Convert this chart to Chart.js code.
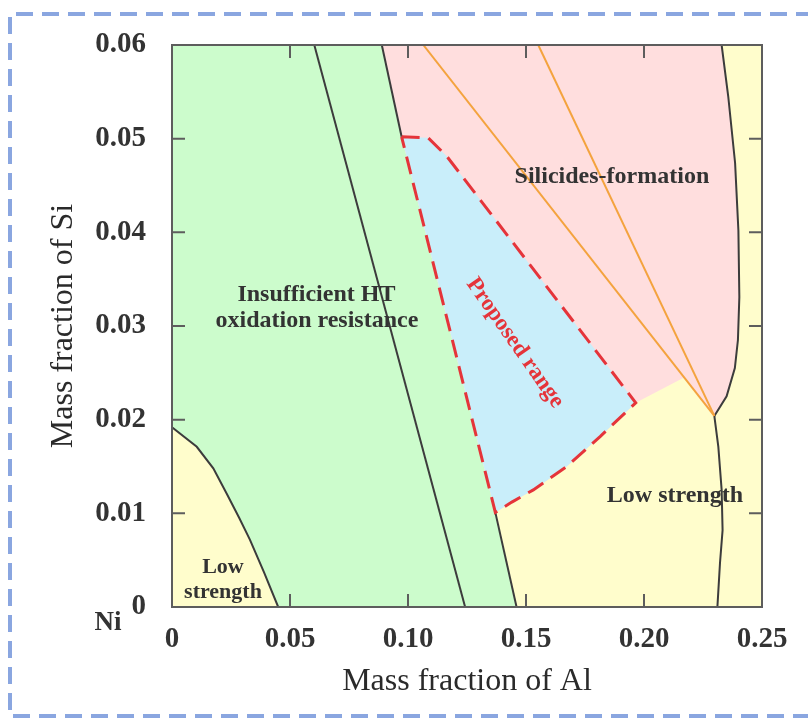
<!DOCTYPE html>
<html>
<head>
<meta charset="utf-8">
<script src="https://cdn.jsdelivr.net/npm/chart.js@4.4.1/dist/chart.umd.min.js"></script>
<style>
  html, body { margin: 0; padding: 0; background: #fff; }
  canvas { display: block; }
</style>
</head>
<body>
<canvas id="chart" width="808" height="720"></canvas>
<script>
// axis ranges and tick labels
const xRange = [0, 0.25];
const yRange = [0, 0.06];
const xTickLabels = ['0', '0.05', '0.10', '0.15', '0.20', '0.25'];
const yTickLabels = ['0', '0.01', '0.02', '0.03', '0.04', '0.05', '0.06'];

// boundaries, as [Al, Si] mass fractions
const lowLeftCurve = [[0, 0.0192], [0.0105, 0.0171], [0.0175, 0.0148], [0.0232, 0.0121], [0.0285, 0.0095], [0.033, 0.0072], [0.039, 0.0037], [0.045, 0]];
const innerGreenLine = [[0.0603, 0.06], [0.1242, 0]];
const greenEdgeTop = [[0.0889, 0.06], [0.0973, 0.0502]];
const greenEdgeBottom = [[0.137, 0.0101], [0.146, 0]];
const silicideCurve = [[0.2329, 0.06], [0.2357, 0.0545], [0.2386, 0.0474], [0.2400, 0.0402], [0.2404, 0.0331], [0.2398, 0.0285], [0.2385, 0.0255], [0.2350, 0.0225], [0.2298, 0.0204]];
const strengthCurve = [[0.2298, 0.0204], [0.2315, 0.0171], [0.2329, 0.0125], [0.2333, 0.0082], [0.2322, 0.0047], [0.2311, 0]];
const orangeLineA = [[0.1065, 0.06], [0.2298, 0.0204]];
const orangeLineB = [[0.1552, 0.06], [0.2298, 0.0204]];
const pinkYellowEdge = [[0.2298, 0.0204], [0.2170, 0.0245], [0.1965, 0.0218]];
const proposedTop = [[0.0973, 0.0502], [0.1085, 0.0501], [0.1165, 0.0481], [0.1965, 0.0218]];
const proposedBottom = [[0.1965, 0.0218], [0.1814, 0.0182], [0.1672, 0.0150], [0.1531, 0.0125], [0.1440, 0.0112], [0.137, 0.0101]];

// filled regions built from the boundaries
const yellowRegion = [[0, 0], [0.25, 0], [0.25, 0.06], [0, 0.06], [0, 0]];
const greenRegion = [[0, 0.0192], [0, 0.06], ...greenEdgeTop, ...greenEdgeBottom, ...lowLeftCurve.slice().reverse()];
const pinkRegion = [[0.0889, 0.06], ...silicideCurve, ...pinkYellowEdge.slice(1), ...proposedBottom.slice(1), [0.0973, 0.0502], [0.0889, 0.06]];
const proposedRegion = [...proposedTop, ...proposedBottom.slice(1), [0.0973, 0.0502]];

// text placed in the regions
const notes = [
  { text: 'Silicides-formation', at: [0.1864, 0.0459], color: '#333', size: 24 },
  { text: 'Insufficient HT', at: [0.0612, 0.0333], color: '#333', size: 24 },
  { text: 'oxidation resistance', at: [0.0614, 0.0306], color: '#333', size: 24 },
  { text: 'Proposed range', at: [0.1453, 0.0282], color: '#e5343a', size: 23, angle: 55 },
  { text: 'Low strength', at: [0.2131, 0.0119], color: '#333', size: 24 },
  { text: 'Low', at: [0.0216, 0.0042], color: '#333', size: 22 },
  { text: 'strength', at: [0.0216, 0.0016], color: '#333', size: 22 },
];

const toXY = pts => pts.map(([x, y]) => ({ x, y }));

function region(pts, color, order) {
  return {
    data: toXY(pts), showLine: true, fill: 'shape', backgroundColor: color,
    borderWidth: 0, borderColor: 'rgba(0,0,0,0)', pointRadius: 0, tension: 0, order
  };
}

function boundary(pts, color, width, order, dash) {
  return {
    data: toXY(pts), showLine: true, fill: false, borderColor: color, borderWidth: width,
    borderDash: dash || [], pointRadius: 0, tension: 0, order
  };
}

const serif = '"Liberation Serif", "Times New Roman", serif';

const frameAndTicks = {
  id: 'frameAndTicks',
  afterDatasetsDraw(chart) {
    const { ctx, chartArea: a, scales: { x, y } } = chart;
    ctx.save();
    ctx.strokeStyle = '#5d5d5d';
    ctx.lineWidth = 2;
    ctx.beginPath();
    x.ticks.forEach(t => {
      const px = x.getPixelForValue(t.value);
      if (px <= a.left + 2 || px >= a.right - 2) return;
      ctx.moveTo(px, a.bottom); ctx.lineTo(px, a.bottom - 13);
      ctx.moveTo(px, a.top); ctx.lineTo(px, a.top + 13);
    });
    y.ticks.forEach(t => {
      const py = y.getPixelForValue(t.value);
      if (py <= a.top + 2 || py >= a.bottom - 2) return;
      ctx.moveTo(a.left, py); ctx.lineTo(a.left + 13, py);
      ctx.moveTo(a.right, py); ctx.lineTo(a.right - 13, py);
    });
    ctx.stroke();
    ctx.strokeRect(a.left, a.top, a.right - a.left, a.bottom - a.top);
    ctx.restore();
  }
};

const regionText = {
  id: 'regionText',
  afterDatasetsDraw(chart) {
    const { ctx, scales: { x, y } } = chart;
    ctx.save();
    ctx.textAlign = 'center';
    ctx.textBaseline = 'middle';
    notes.forEach(n => {
      ctx.save();
      ctx.translate(x.getPixelForValue(n.at[0]), y.getPixelForValue(n.at[1]));
      if (n.angle) ctx.rotate(n.angle * Math.PI / 180);
      ctx.font = 'bold ' + n.size + 'px ' + serif;
      ctx.fillStyle = n.color;
      ctx.fillText(n.text, 0, 0);
      ctx.restore();
    });
    // element label at the origin
    ctx.font = 'bold 27px ' + serif;
    ctx.fillStyle = '#333';
    ctx.fillText('Ni', x.getPixelForValue(0) - 64, y.getPixelForValue(0) + 16);
    ctx.restore();
  }
};

const pageBorder = {
  id: 'pageBorder',
  afterDraw(chart) {
    const { ctx, width, height } = chart;
    ctx.save();
    ctx.strokeStyle = '#8aa6e0';
    ctx.lineWidth = 4;
    ctx.setLineDash([17, 9]);
    ctx.beginPath();
    ctx.moveTo(width + 5, 14);
    ctx.lineTo(10, 14);
    ctx.lineTo(10, height - 4);
    ctx.lineTo(width + 5, height - 4);
    ctx.stroke();
    ctx.restore();
  }
};

new Chart(document.getElementById('chart'), {
  type: 'scatter',
  data: {
    datasets: [
      region(yellowRegion, '#fffdcc', 20),
      region(greenRegion, '#ccfccc', 19),
      region(pinkRegion, '#ffdede', 18),
      region(proposedRegion, '#c9eefa', 17),
      boundary(lowLeftCurve, '#3c3c3c', 2, 5),
      boundary(innerGreenLine, '#3c3c3c', 2, 5),
      boundary(greenEdgeTop, '#3c3c3c', 2, 5),
      boundary(greenEdgeBottom, '#3c3c3c', 2, 5),
      boundary(silicideCurve, '#3c3c3c', 2, 5),
      boundary(strengthCurve, '#3c3c3c', 2, 5),
      boundary(orangeLineA, '#f4a33e', 2, 4),
      boundary(orangeLineB, '#f4a33e', 2, 4),
      boundary(proposedRegion, '#e5343a', 3, 2, [18, 9])
    ]
  },
  options: {
    responsive: false,
    animation: false,
    devicePixelRatio: 1,
    layout: { padding: { left: 0, top: 45, right: 46, bottom: 0 } },
    plugins: { legend: { display: false }, tooltip: { enabled: false } },
    scales: {
      x: {
        type: 'linear', min: xRange[0], max: xRange[1],
        afterFit(scale) { scale.height = 113; },
        grid: { display: false, drawTicks: false },
        border: { display: false },
        ticks: {
          stepSize: 0.05, autoSkip: false, maxRotation: 0, padding: 15,
          color: '#333', font: { family: serif, size: 29, weight: 'bold' },
          callback: (v, i) => xTickLabels[i]
        },
        title: {
          display: true, text: 'Mass fraction of Al', color: '#2a2a2a',
          font: { family: serif, size: 32 }, padding: { top: 0, bottom: 19 }
        }
      },
      y: {
        type: 'linear', min: yRange[0], max: yRange[1],
        afterFit(scale) { scale.width = 172; },
        grid: { display: false, drawTicks: false },
        border: { display: false },
        ticks: {
          stepSize: 0.01, autoSkip: false, padding: 26,
          color: '#333', font: { family: serif, size: 29, weight: 'bold' },
          callback: (v, i) => yTickLabels[i]
        },
        title: {
          display: true, text: 'Mass fraction of Si', color: '#2a2a2a',
          font: { family: serif, size: 32 }, padding: { top: 44, bottom: 0 }
        }
      }
    }
  },
  plugins: [frameAndTicks, regionText, pageBorder]
});
</script>
</body>
</html>
